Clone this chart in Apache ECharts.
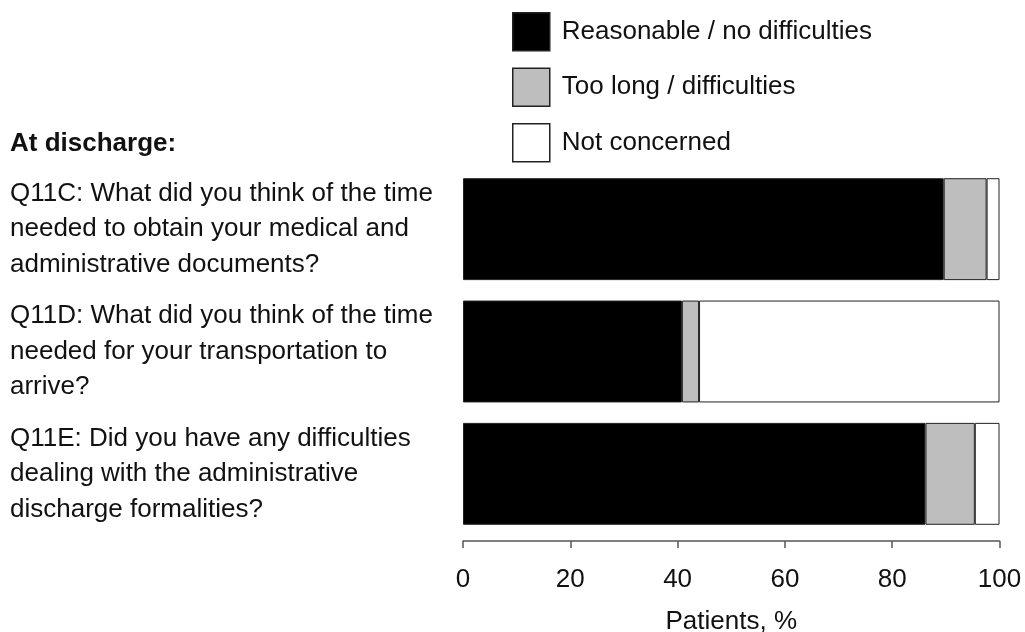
<!DOCTYPE html>
<html><head><meta charset="utf-8">
<script src="https://cdn.jsdelivr.net/npm/echarts@6/dist/echarts.min.js"></script>
<style>html,body{margin:0;padding:0;background:#fff}#c{width:1025px;height:632px}</style>
</head><body><div id="c"></div>
<script>
const categories = [
  "Q11C: What did you think of the time\nneeded to obtain your medical and\nadministrative documents?",
  "Q11D: What did you think of the time\nneeded for your transportation to\narrive?",
  "Q11E: Did you have any difficulties\ndealing with the administrative\ndischarge formalities?"
];
const reasonable = [89.6, 40.8, 86.2];
const tooLong = [8.0, 3.2, 9.2];
const notConcerned = [2.4, 56.0, 4.6];
const seriesNames = ["Reasonable / no difficulties", "Too long / difficulties", "Not concerned"];
const xTicks = [0, 20, 40, 60, 80, 100];

const FONT = "Liberation Sans, Arial, sans-serif";
const chart = echarts.init(document.getElementById('c'));
const border = {borderColor: '#222', borderWidth: 1};
function mk(name, data, color) {
  return {name, type: 'bar', stack: 'all', data, barCategoryGap: '16.7%',
    itemStyle: Object.assign({color}, border), emphasis: {disabled: true}};
}
chart.setOption({
  animation: false,
  textStyle: {fontFamily: FONT},
  grid: {left: 463, right: 25.5, top: 168, bottom: 97, containLabel: false, outerBoundsMode: 'none'},
  legend: {
    orient: 'vertical', left: 512, top: 12, padding: 0, itemWidth: 37, itemHeight: 38, itemGap: 16,
    icon: 'rect', selectedMode: false,
    textStyle: {fontSize: 26, color: '#111', fontFamily: FONT, padding: [0, 0, 0, 7]},
    itemStyle: {borderColor: '#222', borderWidth: 1.5},
    data: seriesNames
  },
  xAxis: {
    type: 'value', min: 0, max: 100, interval: 20, offset: 6,
    axisLine: {show: true, lineStyle: {color: '#555', width: 1.5}},
    axisTick: {show: true, length: 7, lineStyle: {color: '#555', width: 1.5}},
    splitLine: {show: false},
    axisLabel: {fontSize: 26, color: '#111', margin: 26, fontFamily: FONT,
      formatter: v => xTicks.includes(v) ? String(v) : ''},
    name: 'Patients, %', nameLocation: 'middle', nameGap: 68,
    nameTextStyle: {fontSize: 26, color: '#111', fontFamily: FONT}
  },
  yAxis: {
    type: 'category', data: categories, inverse: true,
    axisLine: {show: false}, axisTick: {show: false},
    axisLabel: {align: 'left', margin: 453, fontSize: 26, lineHeight: 35.5, color: '#111', fontFamily: FONT}
  },
  graphic: [{
    type: 'text', left: 10, top: 131,
    style: {text: 'At discharge:', font: 'bold 26px ' + FONT, fill: '#111'}
  }],
  series: [
    mk(seriesNames[0], reasonable, '#000000'),
    mk(seriesNames[1], tooLong, '#bebebe'),
    mk(seriesNames[2], notConcerned, '#ffffff')
  ]
});
</script></body></html>
